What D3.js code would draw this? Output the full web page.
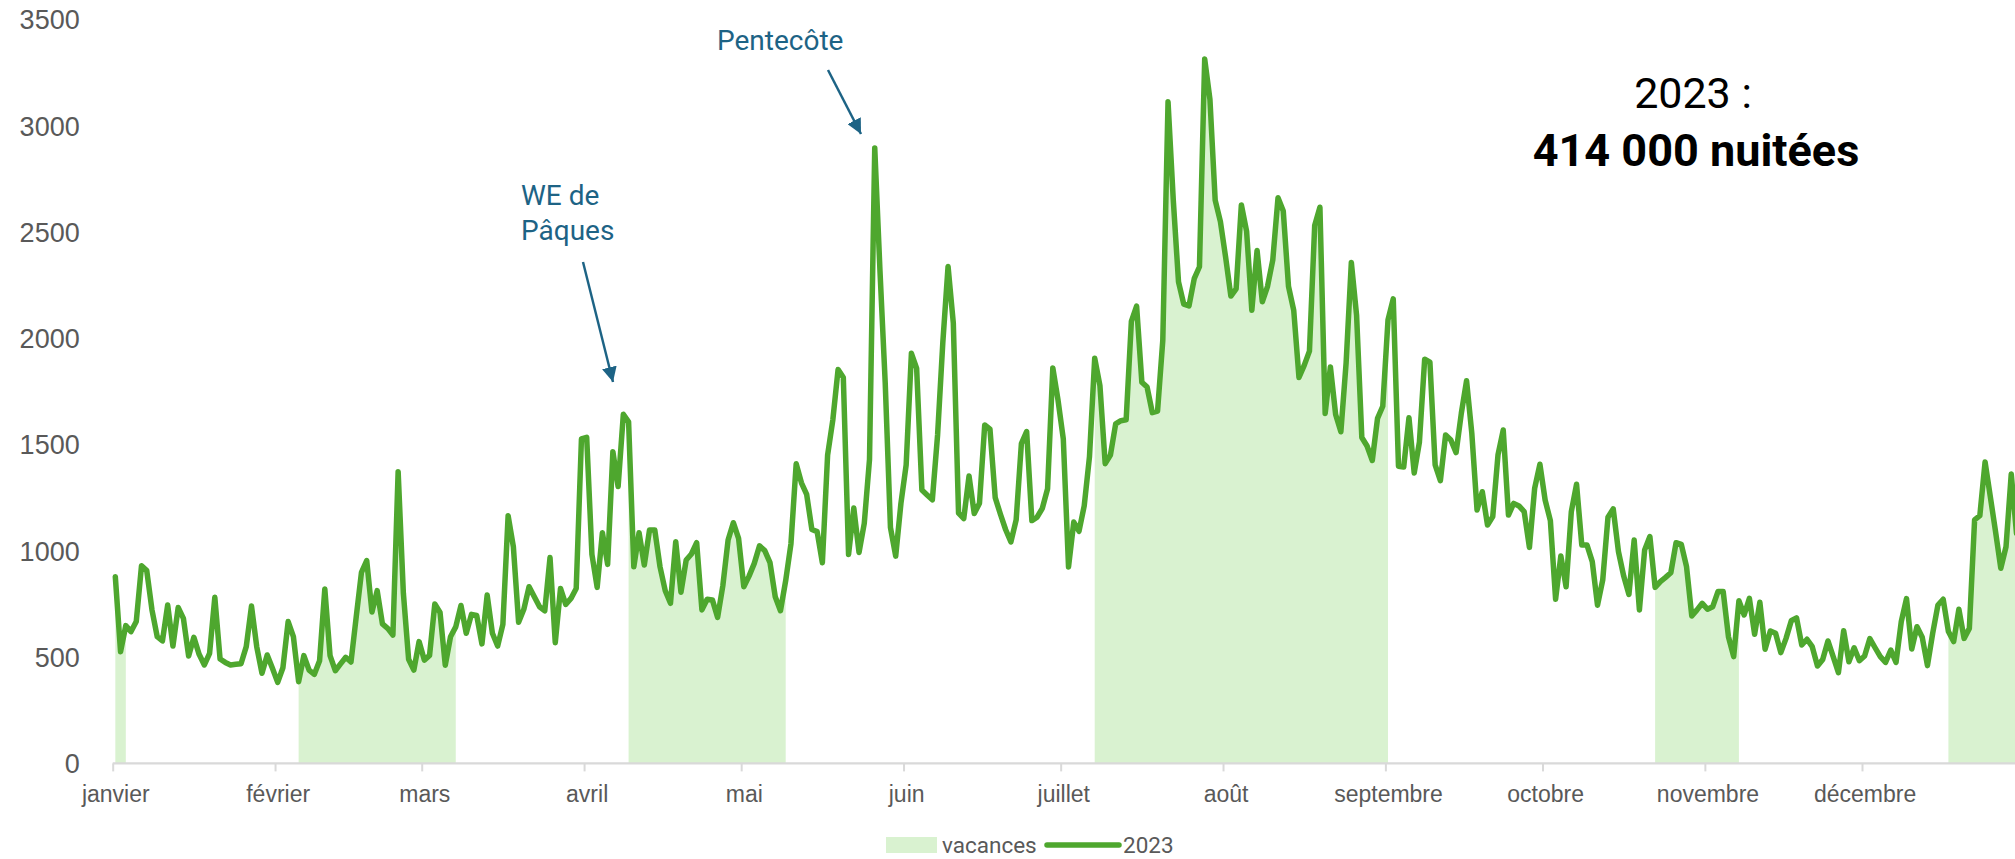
<!DOCTYPE html>
<html lang="fr">
<head>
<meta charset="utf-8">
<script src="https://cdn.jsdelivr.net/npm/d3@7"></script>
<style>
  html, body { margin: 0; padding: 0; background: #ffffff; overflow: hidden; }
  svg { display: block; font-family: Roboto, "Liberation Sans", Arial, sans-serif; }
</style>
</head>
<body>
<svg id="chart" width="2015" height="859"></svg>
<script>
// ---- Data (2023, nuitées par jour) ----
const monthLabels = ["janvier","février","mars","avril","mai","juin","juillet","août","septembre","octobre","novembre","décembre"];
const monthStarts = [0,31,59,90,120,151,181,212,243,273,304,334];
const yTicks = [0,500,1000,1500,2000,2500,3000,3500];

const nights2023 = [
  878,525,648,620,667,930,907,722,596,576,745,552,733,682,505,593,513,463,518,781,
  491,475,463,466,469,549,740,549,424,510,447,381,450,667,596,384,507,439,419,483,
  820,507,436,468,499,477,690,899,954,712,813,656,635,604,1372,800,490,439,573,486,
  508,750,710,462,596,642,743,612,701,696,562,792,612,552,654,1165,1019,664,725,831,
  784,737,718,968,568,823,748,776,823,1526,1534,983,828,1085,936,1466,1302,1642,1607,925,
  1085,933,1098,1098,925,812,753,1043,805,957,985,1038,722,772,769,687,836,1051,1132,1059,
  831,881,941,1023,1001,944,784,718,860,1033,1409,1320,1265,1100,1090,944,1450,1616,1853,1815,
  983,1201,992,1129,1429,2895,2317,1790,1110,975,1223,1404,1929,1858,1286,1263,1240,1545,1980,2337,
  2072,1177,1152,1352,1175,1224,1592,1572,1250,1172,1099,1042,1145,1504,1561,1142,1158,1200,1292,1860,
  1708,1527,924,1135,1092,1212,1442,1906,1776,1410,1450,1597,1612,1616,2079,2151,1793,1770,1650,1657,
  1990,3112,2650,2265,2160,2152,2280,2336,3313,3123,2649,2548,2380,2198,2232,2627,2503,2131,2413,2171,
  2244,2368,2661,2598,2244,2131,1815,1872,1939,2530,2616,1646,1865,1641,1560,1883,2356,2108,1533,1493,
  1425,1623,1680,2086,2185,1398,1394,1626,1366,1512,1901,1887,1404,1330,1545,1521,1462,1647,1800,1553,
  1192,1278,1121,1161,1451,1568,1168,1223,1211,1184,1016,1294,1407,1239,1142,772,976,831,1184,1313,
  1027,1027,949,744,863,1158,1197,996,881,795,1051,722,1004,1067,828,855,875,897,1038,1030,
  925,693,722,753,725,737,808,808,596,502,765,698,776,607,758,537,623,612,521,588,
  671,685,557,584,549,458,489,576,502,427,624,478,544,483,505,587,544,502,475,533,
  475,667,775,538,643,593,460,612,745,772,620,573,725,588,635,1145,1165,1418,1255,1090,
  918,1019,1361,1082,1100
];

// school holiday periods (first and last day index, inclusive)
const holidayStart = [0, 35, 98, 187, 294, 350];
const holidayEnd   = [2, 65, 128, 243, 310, 364];

const seriesName = "2023";
const holidayName = "vacances";
const annotations = [
  { lines: ["WE de", "Pâques"] },
  { lines: ["Pentecôte"] }
];
const totalLine1 = "2023 :";
const totalLine2 = "414 000 nuitées";

// ---- Layout ----
const svg = d3.select("#chart");
const plotLeft = 112.7, dayWidth = 5.2374;
const x = d3.scaleLinear().domain([0, 365]).range([plotLeft, plotLeft + dayWidth * 365]);
const y = d3.scaleLinear().domain([0, 3500]).range([763.4, 19.3]);

const lineColor = "#4EA72E";
const fillColor = "#D9F2D0";
const axisColor = "#D9D9D9";
const textGrey = "#595959";
const annoColor = "#1D6385";

const data = nights2023.map((v, i) => ({ d: i, v }));

// holiday areas
const area = d3.area()
  .x(p => x(p.d + 0.5))
  .y0(y(0))
  .y1(p => y(p.v));
holidayStart.forEach((s, k) => {
  const seg = data.slice(s, holidayEnd[k] + 1);
  svg.append("path").attr("d", area(seg)).attr("fill", fillColor);
});

// x axis
const xAxis = d3.axisBottom(x)
  .tickValues(monthStarts)
  .tickFormat((d, i) => monthLabels[i])
  .tickSize(8)
  .tickSizeOuter(0);
const gx = svg.append("g").attr("transform", `translate(0,${y(0)})`).call(xAxis);
gx.select(".domain").attr("stroke", axisColor).attr("stroke-width", 2.2)
  .attr("d", `M${plotLeft},0H2100`);
gx.selectAll(".tick line").attr("stroke", axisColor).attr("stroke-width", 2);
gx.selectAll(".tick text")
  .attr("fill", textGrey).attr("font-size", 23)
  .attr("y", 31).attr("dy", "0.35em").attr("dx", 2.6);

// y axis
const yAxis = d3.axisLeft(y).tickValues(yTicks).tickFormat(d3.format("d")).tickSize(0).tickPadding(33);
const gy = svg.append("g").attr("transform", `translate(${plotLeft},0)`).call(yAxis);
gy.select(".domain").remove();
gy.selectAll(".tick text").attr("fill", textGrey).attr("font-size", 27).attr("dy", "0.35em");

// line
const line = d3.line().x(p => x(p.d + 0.5)).y(p => y(p.v));
svg.append("path").attr("d", line(data))
  .attr("fill", "none").attr("stroke", lineColor).attr("stroke-width", 5.5)
  .attr("stroke-linejoin", "round").attr("stroke-linecap", "round");

// legend
const legendY = 845;
const lg = svg.append("g");
lg.append("rect").attr("x", 886).attr("y", legendY - 8).attr("width", 51).attr("height", 16).attr("fill", fillColor);
lg.append("text").attr("x", 942).attr("y", legendY).attr("dy", "0.35em")
  .attr("font-size", 22.5).attr("fill", textGrey).text(holidayName);
lg.append("line").attr("x1", 1047).attr("x2", 1119).attr("y1", legendY).attr("y2", legendY)
  .attr("stroke", lineColor).attr("stroke-width", 5.5).attr("stroke-linecap", "round");
lg.append("text").attr("x", 1123).attr("y", legendY).attr("dy", "0.35em")
  .attr("font-size", 22.5).attr("fill", textGrey).text(seriesName);

// annotations
const defs = svg.append("defs");
defs.append("marker").attr("id", "arrow").attr("viewBox", "0 0 10 10")
  .attr("refX", 10).attr("refY", 5).attr("markerWidth", 6).attr("markerHeight", 6)
  .attr("markerUnits", "strokeWidth").attr("orient", "auto")
  .append("path").attr("d", "M0,0L10,5L0,10z").attr("fill", annoColor);

const a1 = svg.append("text").attr("font-size", 28).attr("fill", annoColor);
a1.append("tspan").attr("x", 521).attr("y", 205).text(annotations[0].lines[0]);
a1.append("tspan").attr("x", 521).attr("y", 240).text(annotations[0].lines[1]);
svg.append("line").attr("x1", 583).attr("y1", 262).attr("x2", 613).attr("y2", 382)
  .attr("stroke", annoColor).attr("stroke-width", 2.5).attr("marker-end", "url(#arrow)");

svg.append("text").attr("font-size", 28).attr("fill", annoColor)
  .attr("x", 717).attr("y", 50).text(annotations[1].lines[0]);
svg.append("line").attr("x1", 828).attr("y1", 70).attr("x2", 861).attr("y2", 134)
  .attr("stroke", annoColor).attr("stroke-width", 2.5).attr("marker-end", "url(#arrow)");

// total
svg.append("text").attr("x", 1693).attr("y", 108).attr("text-anchor", "middle")
  .attr("font-size", 43).attr("fill", "#000").text(totalLine1);
svg.append("text").attr("x", 1696).attr("y", 166).attr("text-anchor", "middle")
  .attr("font-size", 45).attr("font-weight", "bold").attr("fill", "#000").text(totalLine2);
</script>
</body>
</html>
